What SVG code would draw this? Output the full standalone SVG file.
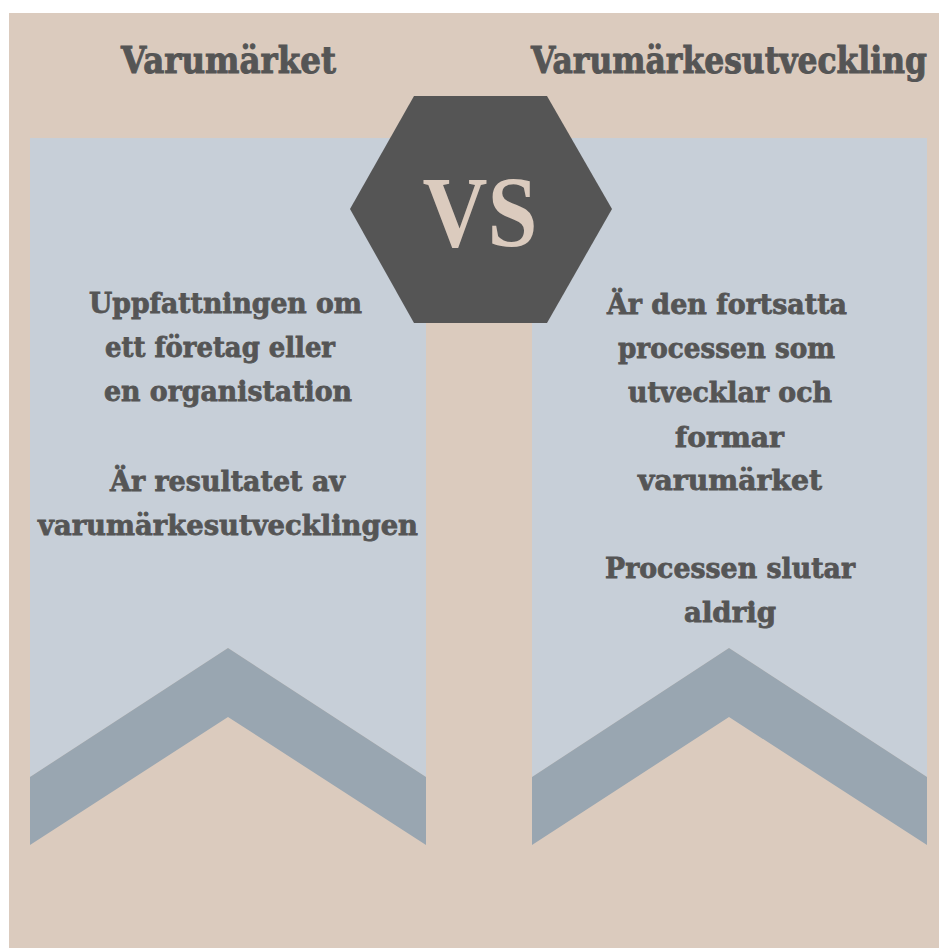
<svg xmlns="http://www.w3.org/2000/svg" width="939" height="948" viewBox="0 0 939 948">
<style>
.bg{fill:#dbcbbe}
.light{fill:#c7cfd8}
.dark{fill:#99a6b1}
.t{font-family:"DejaVu Serif","Liberation Serif",serif;font-weight:bold;fill:#555555;stroke:#555555;text-anchor:middle}
.h{font-size:37px;stroke-width:1}
.b{font-size:28px;stroke-width:0.8}
.vs{font-family:"Liberation Serif","DejaVu Serif",serif;font-weight:bold;fill:#dbcbbe;text-anchor:middle;font-size:102px}
</style>
<rect x="0" y="0" width="939" height="948" fill="#ffffff"/>
<rect class="bg" x="9" y="13" width="930" height="935"/>
<g id="left-banner">
<path class="light" d="M30,138 H426 V777 L228,648 L30,777 Z"/>
<path class="dark" d="M30,777 L228,648 L426,777 V845 L228,717 L30,845 Z"/>
</g>
<g id="right-banner">
<path class="light" d="M532,138 H927 V777 L729,648 L532,777 Z"/>
<path class="dark" d="M532,777 L729,648 L927,777 V845 L729,717 L532,845 Z"/>
</g>
<g id="vs">
<polygon points="414,96 547,96 612,209 547,323 414,323 350,209" fill="#555555"/>
<text class="vs" x="480" y="247" textLength="115" lengthAdjust="spacingAndGlyphs">VS</text>
</g>
<g id="left-title">
<text class="t h" x="228.5" y="73" textLength="215" lengthAdjust="spacingAndGlyphs">Varumärket</text>
</g>
<g id="right-title">
<text class="t h" x="729" y="73" textLength="396" lengthAdjust="spacingAndGlyphs">Varumärkesutveckling</text>
</g>
<g id="left-text">
<text class="t b" x="225.5" y="313" textLength="273" lengthAdjust="spacingAndGlyphs">Uppfattningen om</text>
<text class="t b" x="220" y="357" textLength="230" lengthAdjust="spacingAndGlyphs">ett företag eller</text>
<text class="t b" x="228" y="401" textLength="248" lengthAdjust="spacingAndGlyphs">en organistation</text>
<text class="t b" x="227.5" y="491" textLength="235" lengthAdjust="spacingAndGlyphs">Är resultatet av</text>
<text class="t b" x="228" y="535" textLength="380" lengthAdjust="spacingAndGlyphs">varumärkesutvecklingen</text>
</g>
<g id="right-text">
<text class="t b" x="727" y="314" textLength="240" lengthAdjust="spacingAndGlyphs">Är den fortsatta</text>
<text class="t b" x="726.5" y="358" textLength="217" lengthAdjust="spacingAndGlyphs">processen som</text>
<text class="t b" x="730" y="402" textLength="204" lengthAdjust="spacingAndGlyphs">utvecklar och</text>
<text class="t b" x="729.5" y="447" textLength="109" lengthAdjust="spacingAndGlyphs">formar</text>
<text class="t b" x="730" y="490" textLength="184" lengthAdjust="spacingAndGlyphs">varumärket</text>
<text class="t b" x="730" y="578" textLength="250" lengthAdjust="spacingAndGlyphs">Processen slutar</text>
<text class="t b" x="730" y="622" textLength="92" lengthAdjust="spacingAndGlyphs">aldrig</text>
</g>
</svg>
